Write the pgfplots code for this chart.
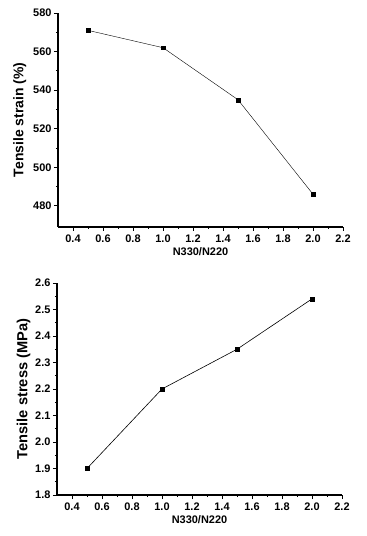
\documentclass[border=0pt]{standalone}
\usepackage{pgfplots}
\pgfplotsset{compat=1.18}
\usepackage{fontspec}
\setmainfont{Liberation Sans}
\begin{document}
\begin{tikzpicture}
\path[use as bounding box] (0bp,0bp) rectangle (367bp,536bp);
\pgfplotsset{
  myax/.style={
    scale only axis,
    axis lines*=left,
    tick align=outside,
    tick pos=left,
    xmin=0.3, xmax=2.2,
    xtick={0.4,0.6,...,2.2},
    minor x tick num=1,
    minor y tick num=1,
    major tick length=4bp,
    minor tick length=2bp,
    every tick/.style={black, line width=0.8pt},
    axis line style={line width=1.1pt},
    /pgf/number format/assume math mode=true,
    /pgf/number format/fixed,
    /pgf/number format/fixed zerofill,
    /pgf/number format/precision=1,
    ticklabel style={font=\bfseries\fontsize{11}{12}\selectfont},
    yticklabel style={xshift=1bp},
    xlabel={N330/N220},
    xlabel style={font=\bfseries\fontsize{11}{13}\selectfont, yshift=2bp},
  }
}
\begin{axis}[myax,
  at={(58bp,309bp)}, anchor=south west,
  width=285bp, height=214bp,
  ymin=469, ymax=580,
  ytick={480,500,...,580},
  yticklabel style={/pgf/number format/precision=0},
  ylabel={\fontsize{14}{16}\selectfont\bfseries Tensile strain (\%)},
  ylabel style={yshift=0bp},
]
\addplot[black, line width=0.4pt, mark=square*, mark size=2pt] coordinates {
(0.5,571) (1.0,562) (1.5,535) (2.0,486)};
\end{axis}
\begin{axis}[myax,
  at={(57bp,41bp)}, anchor=south west,
  width=285bp, height=212bp,
  ymin=1.8, ymax=2.6,
  ytick={1.8,1.9,...,2.6},
  ylabel={\fontsize{14.7}{17}\selectfont\bfseries Tensile stress (MPa)},
  ylabel style={yshift=-2bp},
]
\addplot[black, line width=0.6pt, mark=square*, mark size=2pt] coordinates {
(0.5,1.9) (1.0,2.2) (1.5,2.35) (2.0,2.54)};
\end{axis}
\end{tikzpicture}
\end{document}
